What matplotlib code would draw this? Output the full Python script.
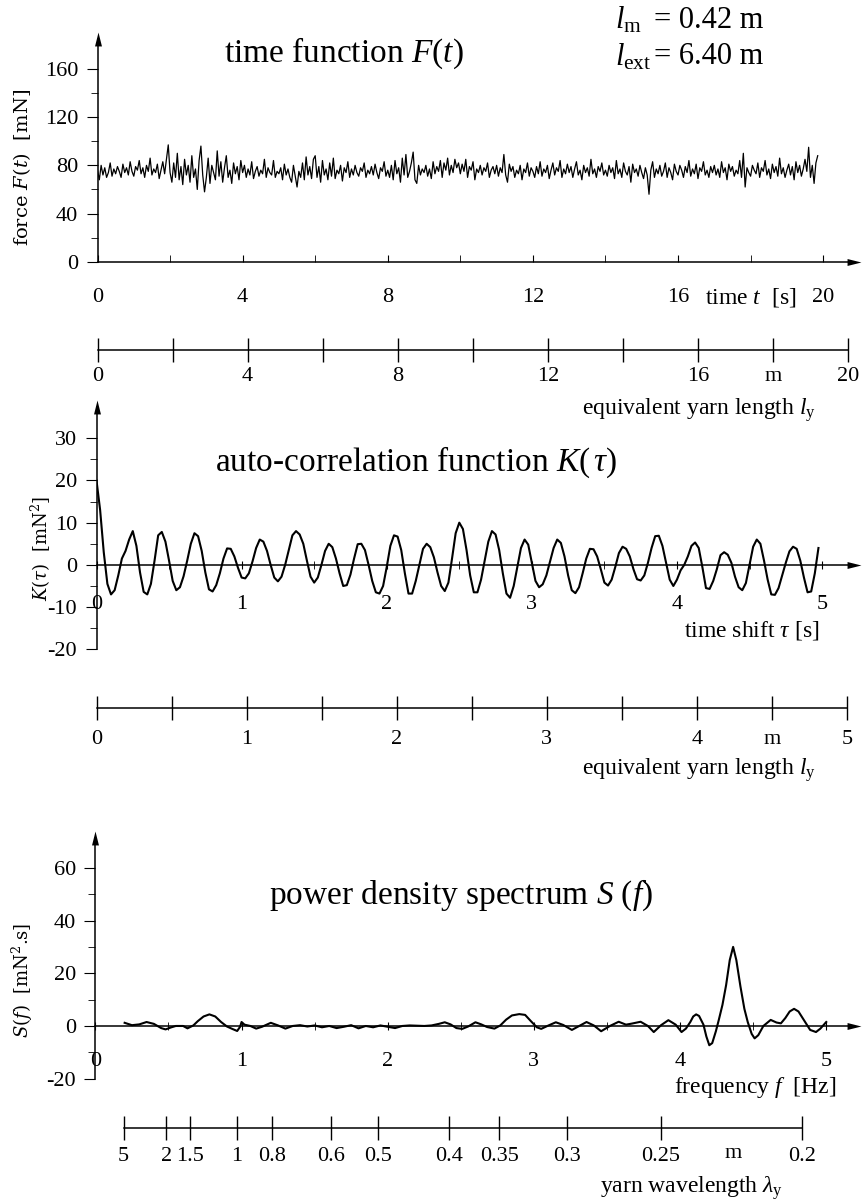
import numpy as np
import matplotlib
matplotlib.use('Agg')
import matplotlib.pyplot as plt

plt.rcParams['font.family'] = 'Liberation Serif'
plt.rcParams['mathtext.fontset'] = 'custom'
plt.rcParams['mathtext.rm'] = 'Liberation Serif'
plt.rcParams['mathtext.it'] = 'Liberation Serif:italic'
plt.rcParams['axes.unicode_minus'] = False

# ---- data ----
# force F(t) in mN, sampled every 0.05 s
dt_force = 0.05
force = [76, 68, 80, 72, 78, 70, 74, 82, 71, 77, 73, 79, 75, 70, 81, 74, 78, 72, 83, 75,
         71, 79, 76, 84, 73, 78, 70, 80, 75, 86, 72, 77, 74, 81, 69, 76, 83, 73, 85, 97,
         74, 66, 82, 70, 90, 68, 79, 64, 85, 72, 80, 66, 88, 70, 77, 60, 84, 96, 72, 58,
         70, 86, 65, 80, 74, 68, 92, 71, 83, 66, 78, 88, 70, 76, 65, 82, 73, 79, 68, 84,
         74, 80, 70, 77, 72, 83, 69, 75, 79, 71, 76, 73, 85, 70, 78, 74, 72, 84, 70, 75,
         73, 78, 68, 81, 72, 77, 70, 66, 80, 71, 62, 75, 70, 82, 68, 87, 72, 79, 69, 85,
         88, 70, 79, 66, 84, 72, 77, 68, 82, 71, 86, 69, 76, 73, 80, 67, 78, 74, 83, 70,
         77, 72, 80, 74, 71, 78, 75, 82, 70, 76, 73, 79, 72, 81, 74, 69, 78, 75, 83, 71,
         76, 70, 80, 68, 84, 73, 78, 66, 86, 72, 89, 70, 75, 82, 91, 68, 65, 80, 72, 77,
         74, 80, 71, 77, 69, 83, 73, 79, 75, 84, 70, 82, 76, 86, 72, 80, 74, 85, 78, 82,
         73, 81, 75, 85, 70, 79, 76, 83, 68, 77, 74, 80, 72, 78, 75, 82, 70, 76, 79, 73,
         80, 71, 78, 74, 89, 72, 66, 81, 75, 79, 70, 76, 73, 80, 68, 77, 74, 82, 71, 78,
         75, 70, 79, 73, 83, 71, 77, 74, 80, 69, 76, 82, 72, 78, 75, 84, 70, 77, 73, 81,
         74, 79, 70, 77, 83, 72, 76, 68, 80, 74, 78, 71, 85, 73, 77, 70, 79, 75, 82, 72,
         76, 71, 80, 74, 78, 69, 84, 73, 77, 70, 82, 75, 72, 79, 66, 81, 74, 77, 71, 80,
         74, 69, 78, 72, 56, 76, 83, 70, 77, 73, 80, 71, 75, 82, 70, 78, 74, 68, 81, 75,
         72, 80, 76, 70, 79, 74, 84, 71, 77, 73, 81, 69, 78, 75, 83, 72, 76, 70, 79, 74,
         80, 72, 77, 70, 83, 74, 78, 68, 81, 75, 79, 71, 76, 73, 84, 70, 90, 62, 78, 74,
         71, 80, 76, 73, 82, 70, 78, 75, 84, 72, 77, 69, 81, 74, 79, 71, 86, 73, 78, 70,
         76, 81, 72, 79, 68, 83, 74, 80, 71, 77, 85, 75, 95, 70, 80, 65, 82, 88]

# auto-correlation K(tau) in mN^2, sampled every 0.025 s
dt_corr = 0.025
corr = [20, 13, 3, -4.5, -7, -6.0, -2.5, 1.5, 3.3, 6.0,
        8.0, 4.5, -1.8, -6.4, -7.0, -4.5, 1.0, 7.0, 7.8, 5.5,
        1.0, -3.8, -6.0, -5.3, -2.7, 1.0, 5.0, 7.5, 6.8, 3.3,
        -1.8, -5.8, -6.3, -4.8, -2.0, 1.5, 3.9, 3.8, 2.0, -0.7,
        -3.0, -3.2, -2.0, 0.8, 4.0, 6.0, 5.5, 3.3, 0.0, -3.0,
        -3.9, -2.8, 0.0, 3.5, 7.0, 8.0, 7.2, 5.0, 1.0, -2.8,
        -4.2, -3.0, 0.0, 3.3, 5.0, 4.2, 1.5, -2.0, -5.0, -4.8,
        -2.3, 1.5, 4.9, 5.0, 3.5, 0.0, -3.8, -6.5, -6.8, -5.0,
        -0.5, 4.5, 7.0, 6.7, 3.5, -2.0, -6.8, -6.8, -3.8, 0.0,
        3.8, 5.0, 4.2, 1.8, -1.8, -5.0, -6.2, -4.2, 1.5, 7.5,
        10.0, 8.5, 3.5, -2.5, -6.5, -6.5, -3.5, 1.0, 5.5, 8.0,
        7.2, 3.5, -2.0, -6.8, -7.8, -5.0, -0.5, 4.0, 6.0, 4.8,
        0.5, -3.8, -5.3, -4.6, -2.5, 0.8, 4.0, 6.0, 5.2, 2.0,
        -2.5, -6.0, -6.7, -5.3, -2.0, 1.5, 3.8, 3.7, 2.0, -1.0,
        -4.2, -4.9, -3.5, -0.5, 2.8, 4.3, 3.8, 2.0, -1.0, -3.4,
        -3.7, -2.5, 0.5, 4.0, 6.8, 6.9, 4.5, 0.5, -3.5, -5.0,
        -3.5, -1.3, 0.0, 2.0, 4.5, 5.3, 4.0, -0.5, -5.5, -5.7,
        -3.8, -1.0, 2.3, 3.0, 2.4, 0.5, -2.8, -5.3, -6.0, -4.3,
        0.0, 4.3, 6.0, 5.0, 1.0, -3.5, -7.0, -7.1, -5.5, -2.5,
        0.5, 3.2, 4.3, 3.8, 1.0, -3.0, -6.5, -6.3, -2.0, 4.0]

# power density spectrum S(f) in mN^2.s
freq = [0.20, 0.25, 0.30, 0.35, 0.40, 0.45, 0.48, 0.52, 0.55, 0.60,
        0.63, 0.67, 0.70, 0.74, 0.78, 0.82, 0.86, 0.90, 0.94, 0.97,
        0.99, 1.00, 1.02, 1.06, 1.10, 1.14, 1.20, 1.25, 1.30, 1.35,
        1.40, 1.45, 1.50, 1.55, 1.60, 1.65, 1.70, 1.75, 1.80, 1.85,
        1.90, 1.95, 2.00, 2.05, 2.10, 2.15, 2.20, 2.25, 2.30, 2.35,
        2.39, 2.43, 2.47, 2.51, 2.55, 2.60, 2.64, 2.68, 2.73, 2.77,
        2.81, 2.85, 2.90, 2.94, 2.98, 3.02, 3.05, 3.10, 3.15, 3.20,
        3.26, 3.31, 3.36, 3.41, 3.46, 3.52, 3.58, 3.63, 3.67, 3.73,
        3.78, 3.82, 3.87, 3.92, 3.97, 4.01, 4.04, 4.07, 4.09, 4.11,
        4.13, 4.16, 4.18, 4.20, 4.22, 4.245, 4.265, 4.29, 4.315, 4.34,
        4.363, 4.385, 4.413, 4.44, 4.463, 4.49, 4.51, 4.535, 4.57, 4.62,
        4.66, 4.69, 4.72, 4.75, 4.78, 4.81, 4.85, 4.89, 4.93, 4.96,
        5.00]
spec = [1.2, 0.3, 0.6, 1.5, 0.8, -0.8, -1.3, -0.5, 0.0, 0.0,
        -0.9, 0.2, 1.8, 3.6, 4.4, 3.6, 1.5, -0.2, -1.2, -1.9,
        -0.3, 1.5, 0.5, 0.0, -1.0, -0.3, 1.2, 0.2, -1.0, 0.0,
        0.3, -0.2, 0.2, -0.5, 0.0, -0.8, -0.3, 0.3, -0.9, 0.0,
        -0.5, 0.2, -0.3, -0.8, 0.0, 0.2, 0.1, 0.0, 0.2, 0.8,
        1.4, 0.6, -0.8, -1.1, -0.2, 1.4, 0.6, -0.4, -1.0, 0.2,
        2.4, 4.0, 4.5, 4.2, 1.8, -0.5, -1.1, 0.2, 1.4, 0.4,
        -1.5, 0.0, 1.5, 0.2, -2.0, 0.0, 1.6, 0.5, 0.9, 1.6,
        0.0, -2.3, 0.3, 2.2, 0.5, -2.3, -1.0, 1.5, 3.6, 4.4,
        3.8, 0.5, -4.0, -7.3, -6.5, -2.0, 2.3, 8.0, 15.5, 25.0,
        30.0, 25.0, 15.0, 6.5, 1.5, -3.0, -4.7, -3.5, 0.0, 2.3,
        1.3, 1.0, 3.0, 5.5, 6.5, 5.5, 2.0, -1.5, -2.3, -1.0,
        1.5]

yarn_speed = 0.967  # m/s, links time / frequency to yarn length / wavelength

len1_ticks = [0, 2, 4, 6, 8, 10, 12, 14, 16, 18, 20]
len1_labels = ['0', '', '4', '', '8', '', '12', '', '16', 'm', '20']
len2_ticks = [0, 0.5, 1, 1.5, 2, 2.5, 3, 3.5, 4, 4.5, 5]
len2_labels = ['0', '', '1', '', '2', '', '3', '', '4', 'm', '5']
wl_ticks = [5, 2, 1.5, 1, 0.8, 0.6, 0.5, 0.4, 0.35, 0.3, 0.25, 0.2]
wl_labels = ['5', '2', '1.5', '1', '0.8', '0.6', '0.5', '0.4', '0.35', '0.3', '0.25', '0.2']

# ---- layout helpers (pixel coordinates, origin top-left) ----
W, H = 863, 1203
fig = plt.figure(figsize=(W / 100, H / 100), dpi=100)


def box(l, t, r, b):
    return [l / W, 1 - b / H, (r - l) / W, (b - t) / H]


def txt(x, y, s, **kw):
    kw.setdefault('va', 'center')
    fig.text(x / W, 1 - y / H, s, **kw)


ARROW_R = [(-2, -1), (2, 0), (-2, 1)]
ARROW_U = [(-1, -2), (0, 2), (1, -2)]


def arrow_axes(ax):
    for s in ['top', 'right']:
        ax.spines[s].set_visible(False)
    ax.spines['bottom'].set_position(('data', 0))
    for s in ['left', 'bottom']:
        ax.spines[s].set_linewidth(1.1)
    ax.plot(1, 0, marker=ARROW_R, ms=10, color='k', mew=0,
            transform=ax.get_yaxis_transform(), clip_on=False)
    ax.plot(0, 1, marker=ARROW_U, ms=10, color='k', mew=0,
            transform=ax.get_xaxis_transform(), clip_on=False)
    ax.patch.set_visible(False)


def scale_axis(l, r, y, xmax, ticks, labels, lo, hi, pad):
    ax = fig.add_axes(box(l, y - 2, r, y))
    ax.set_xlim(0, xmax)
    ax.set_ylim(0, 1)
    for s in ['top', 'right', 'left']:
        ax.spines[s].set_visible(False)
    ax.spines['bottom'].set_bounds(lo, hi)
    ax.spines['bottom'].set_linewidth(1.1)
    ax.set_yticks([])
    ax.set_xticks(ticks)
    ax.set_xticklabels(labels)
    ax.tick_params(axis='x', direction='inout', length=17, width=1.0,
                   pad=pad, labelsize=16)
    ax.patch.set_visible(False)
    return ax


# ---- panel 1: time function ----
ax1 = fig.add_axes(box(97.5, 39, 854, 261.7))
t_force = np.arange(len(force)) * dt_force
ax1.plot(t_force, force, color='k', lw=0.9)
ax1.set_xlim(0, 20.85)
ax1.set_ylim(0, 184.9)
arrow_axes(ax1)
ax1.set_xticks([0, 4, 8, 12, 16, 20])
ax1.set_xticks([2, 6, 10, 14, 18], minor=True)
ax1.tick_params(axis='x', which='both', direction='in', length=5, pad=19, labelsize=16)
ax1.set_yticks([0, 40, 80, 120, 160])
ax1.set_yticks([20, 60, 100, 140], minor=True)
ax1.tick_params(axis='y', which='major', direction='out', length=8, pad=6, labelsize=16)
ax1.tick_params(axis='y', which='minor', direction='out', length=5)

txt(344, 53, r'time function $F(t)$', ha='center', fontsize=24)
txt(615, 20, r'$l_{\mathrm{m}}$', ha='left', fontsize=22)
txt(654, 20, '= 0.42 m', ha='left', fontsize=22)
txt(615, 57, r'$l_{\mathrm{ext}}$', ha='left', fontsize=22)
txt(654, 57, '= 6.40 m', ha='left', fontsize=22)
txt(22, 167, r'force $F(t)$  [mN]', ha='center', rotation=90, fontsize=14,
    family='DejaVu Serif', math_fontfamily='dejavuserif')
txt(751, 297, r'time $t$  [s]', ha='center', fontsize=17)

scale_axis(97.5, 854, 350, 20.85, [v / yarn_speed for v in len1_ticks], len1_labels,
           0, len1_ticks[-1] / yarn_speed, 4)
txt(816, 410, r'equivalent yarn length $l_{\mathrm{y}}$', ha='right', fontsize=17)

# ---- panel 2: auto-correlation ----
ax2 = fig.add_axes(box(96.5, 407, 854, 649.3))
tau = np.arange(len(corr)) * dt_corr
ax2.plot(tau, corr, color='k', lw=1.5)
ax2.set_xlim(0, 5.22)
ax2.set_ylim(-20, 37.4)
arrow_axes(ax2)
ax2.set_xticks([0, 1, 2, 3, 4, 5])
ax2.set_xticks([0.5, 1.5, 2.5, 3.5, 4.5], minor=True)
ax2.tick_params(axis='x', which='both', direction='inout', length=6, pad=19, labelsize=16)
ax2.set_yticks([-20, -10, 0, 10, 20, 30])
ax2.set_yticks([-15, -5, 5, 15, 25], minor=True)
ax2.tick_params(axis='y', which='major', direction='out', length=8, pad=6, labelsize=16)
ax2.tick_params(axis='y', which='minor', direction='out', length=5)

txt(416, 462, r'auto-correlation function $K(\,\tau)$', ha='center', fontsize=24)
txt(41, 548, r'$K(\tau)$  [mN$^2$]', ha='center', rotation=90, fontsize=13,
    family='DejaVu Serif', math_fontfamily='dejavuserif')
txt(752, 630, r'time shift $\tau$ [s]', ha='center', fontsize=17)

scale_axis(96.5, 854, 708, 5.22, [v / yarn_speed for v in len2_ticks], len2_labels,
           0, len2_ticks[-1] / yarn_speed, 7)
txt(816, 770, r'equivalent yarn length $l_{\mathrm{y}}$', ha='right', fontsize=17)

# ---- panel 3: power density spectrum ----
ax3 = fig.add_axes(box(95.4, 838, 854, 1078.7))
ax3.plot(freq, spec, color='k', lw=1.5)
ax3.set_xlim(0, 5.19)
ax3.set_ylim(-20, 71.3)
arrow_axes(ax3)
ax3.set_xticks([0, 1, 2, 3, 4, 5])
ax3.set_xticks([0.5, 1.5, 2.5, 3.5, 4.5], minor=True)
ax3.tick_params(axis='x', which='both', direction='inout', length=6, pad=16, labelsize=16)
ax3.set_yticks([-20, 0, 20, 40, 60])
ax3.set_yticks([-10, 10, 30, 50], minor=True)
ax3.tick_params(axis='y', which='major', direction='out', length=8, pad=6, labelsize=16)
ax3.tick_params(axis='y', which='minor', direction='out', length=5)

txt(461, 895, r'power density spectrum $S\ (f)$', ha='center', fontsize=24)
txt(22, 980, r'$S(f)$  [mN$^2$.s]', ha='center', rotation=90, fontsize=13,
    family='DejaVu Serif', math_fontfamily='dejavuserif')
txt(755, 1087, r'frequency $f$  [Hz]', ha='center', fontsize=17)

wl_pos = [yarn_speed / w for w in wl_ticks]
scale_axis(95.4, 854, 1128, 5.19, wl_pos, wl_labels, wl_pos[0], wl_pos[-1], 5)
txt(733, 1153, 'm', ha='center', fontsize=16)
txt(783, 1188, r'yarn wavelength $\lambda_{\mathrm{y}}$', ha='right', fontsize=17)

fig.savefig('out.png', dpi=100)
